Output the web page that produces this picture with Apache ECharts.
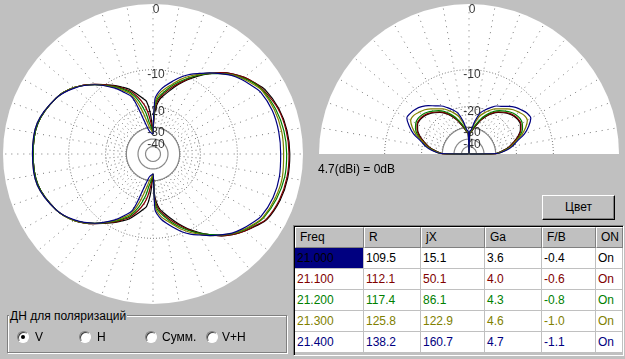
<!DOCTYPE html>
<html>
<head>
<meta charset="utf-8">
<script src="https://cdn.jsdelivr.net/npm/echarts@6.0.0/dist/echarts.min.js"></script>
<style>
html,body{margin:0;padding:0;background:#c0c0c0;overflow:hidden;}
#wrap{position:relative;width:625px;height:359px;background:#c0c0c0;font-family:"Liberation Sans",Arial,sans-serif;font-size:12px;color:#000;overflow:hidden;}
#chart{position:absolute;left:0;top:0;width:625px;height:359px;}
.abs{position:absolute;white-space:nowrap;box-sizing:border-box;overflow:hidden;}
</style>
</head>
<body>
<div id="wrap"><div id="chart"></div></div>
<script>
// ---------- data ----------
const FREQS = ['21.000', '21.100', '21.200', '21.300', '21.400'];
const R_VALUES = [109.5, 112.1, 117.4, 125.8, 138.2];
const JX_VALUES = [15.1, 50.1, 86.1, 122.9, 160.7];
const GA_VALUES = [3.6, 4.0, 4.3, 4.6, 4.7];
const FB_VALUES = [-0.4, -0.6, -0.8, -1.0, -1.1];
const ON_VALUES = ['On', 'On', 'On', 'On', 'On'];
const COLORS = ['#000000', '#800000', '#008000', '#808000', '#000080'];
const DB_TICKS = [0, -10, -20, -30, -40];
const DB_DOTTED = [-10, -20];
const DB_SOLID = [-30, -40, -52];
const POLARIZATIONS = ['V', 'H', 'Сумм.', 'V+H'];

// azimuth pattern (compass angle, clockwise from top), dB
const AZ_ANGLES = [0,2,4,7,10,15,20,25,30,35,40,45,50,55,60,70,80,90,100,110,120,125,130,135,140,145,150,155,160,165,170,173,176,178,180,182,184,187,190,195,200,205,210,220,230,240,255,270,285,300,310,320,330,335,340,345,350,353,356,358,360];
const AZ_21000 = [-35.0,-23.0,-19.8,-17.4,-16.2,-14.3,-12.3,-10.5,-8.9,-7.4,-6.0,-4.9,-4.0,-3.3,-2.6,-2.0,-1.7,-1.6,
  -1.6,-1.8,-2.3,-3.1,-3.9,-4.8,-5.9,-7.3,-8.8,-10.4,-12.2,-14.2,-16.1,-17.3,-19.7,-23.0,-35.0,
  -28.0,-22.1,-18.1,-17.1,-15.3,-13.5,-12.3,-11.1,-8.7,-6.5,-5.1,-4.0,-3.9,
  -4.0,-5.1,-6.5,-8.7,-11.1,-12.3,-13.5,-15.3,-17.1,-18.1,-22.1,-28.0,-35.0];
const AZ_21100 = [-35.0,-21.7,-18.7,-16.8,-15.6,-13.7,-12.0,-10.3,-8.7,-7.4,-6.0,-4.9,-4.0,-3.3,-2.8,-2.1,-1.8,-1.7,
  -1.7,-1.9,-2.4,-3.2,-3.9,-4.8,-5.9,-7.3,-8.6,-10.2,-11.9,-13.6,-15.5,-16.7,-18.6,-21.6,-35.0,
  -31.1,-26.8,-22.1,-19.1,-16.2,-14.0,-12.6,-11.2,-8.7,-6.5,-5.1,-4.0,-3.9,
  -4.0,-5.1,-6.5,-8.7,-11.2,-12.6,-14.0,-16.2,-19.1,-22.1,-26.8,-31.1,-35.0];
const AZ_21200 = [-35.0,-20.5,-17.7,-16.2,-15.1,-13.2,-11.6,-10.1,-8.7,-7.4,-6.2,-5.1,-4.2,-3.4,-2.9,-2.4,-2.1,-2.0,
  -2.0,-2.3,-2.8,-3.4,-4.1,-5.0,-6.1,-7.3,-8.6,-10.0,-11.5,-13.1,-15.0,-16.1,-17.6,-20.4,-35.0,
  -32.6,-29.8,-26.8,-22.1,-17.4,-14.5,-12.9,-11.4,-8.8,-6.5,-5.1,-4.0,-3.9,
  -4.0,-5.1,-6.5,-8.8,-11.4,-12.9,-14.5,-17.4,-22.1,-26.8,-29.8,-32.6,-35.0];
const AZ_21300 = [-35.0,-19.1,-16.8,-15.3,-14.3,-12.8,-11.1,-9.7,-8.5,-7.2,-6.2,-5.1,-4.3,-3.6,-3.0,-2.6,-2.4,-2.4,
  -2.3,-2.5,-2.9,-3.5,-4.2,-5.0,-6.1,-7.1,-8.4,-9.6,-11.0,-12.7,-14.2,-15.2,-16.7,-19.0,-35.0,
  -33.3,-31.8,-30.4,-26.8,-19.8,-15.1,-13.3,-11.6,-8.8,-6.5,-5.1,-3.9,-3.8,
  -3.9,-5.1,-6.5,-8.8,-11.6,-13.3,-15.1,-19.8,-26.8,-30.4,-31.8,-33.3,-35.0];
const AZ_21400 = [-35.0,-17.4,-15.9,-14.5,-13.5,-12.0,-10.5,-9.3,-8.3,-7.2,-6.2,-5.2,-4.5,-3.9,-3.3,-2.9,-2.8,-2.8,
  -2.7,-2.8,-3.2,-3.8,-4.4,-5.1,-6.1,-7.1,-8.2,-9.2,-10.4,-11.9,-13.4,-14.4,-15.8,-17.3,-35.0,
  -35.0,-34.2,-33.3,-31.8,-25.3,-15.9,-13.8,-11.8,-8.8,-6.6,-5.1,-3.9,-3.8,
  -3.9,-5.1,-6.6,-8.8,-11.8,-13.8,-15.9,-25.3,-31.8,-33.3,-34.2,-35.0,-35.0];

// elevation pattern (0 = right horizon, 90 = zenith), dB
const EL_ANGLES = [0,1,6,10,15,20,25,30,35,40,45,50,55,60,65,70,75,80,85,88,90,92,95,100,105,110,115,120,125,130,135,140,145,150,155,160,165,170,174,179,180];
const EL_21000 = [-99,-30.0,-25.5,-22.7,-20.4,-18.3,-16.9,-16.1,-16.0,-16.3,-16.9,-17.8,-18.8,-20.2,-22.1,-24.5,-27.6,-30.6,-33.5,-34.4,-99,-34.4,-33.5,-30.6,-27.6,-24.5,-22.1,-20.2,-18.8,-17.8,-16.9,-16.3,-16.0,-16.1,-16.9,-18.3,-20.4,-22.7,-25.5,-30.0,-99];
const EL_21100 = [-99,-29.8,-25.3,-22.5,-20.2,-18.1,-16.7,-15.9,-15.8,-16.1,-16.7,-17.6,-18.6,-20.0,-21.9,-24.3,-27.4,-30.4,-33.3,-34.2,-99,-34.2,-33.3,-30.4,-27.4,-24.3,-21.9,-20.0,-18.6,-17.6,-16.7,-16.1,-15.8,-15.9,-16.7,-18.1,-20.2,-22.5,-25.3,-29.8,-99];
const EL_21200 = [-99,-29.5,-24.8,-21.9,-19.6,-17.6,-16.2,-15.5,-15.3,-15.6,-16.2,-17.1,-18.1,-19.4,-21.3,-23.6,-26.6,-29.8,-33.0,-33.7,-99,-33.7,-33.0,-29.8,-26.6,-23.6,-21.3,-19.4,-18.1,-17.1,-16.2,-15.6,-15.3,-15.5,-16.2,-17.6,-19.6,-21.9,-24.8,-29.5,-99];
const EL_21300 = [-99,-29.5,-24.3,-21.9,-19.8,-17.1,-15.2,-13.9,-13.9,-14.5,-15.2,-16.2,-17.4,-18.4,-19.8,-21.5,-23.6,-27.7,-32.6,-33.3,-99,-33.3,-32.6,-27.7,-23.6,-21.5,-19.8,-18.4,-17.4,-16.2,-15.2,-14.5,-13.9,-13.9,-15.2,-17.1,-19.8,-21.9,-24.3,-29.5,-99];
const EL_21400 = [-99,-29.2,-23.8,-21.3,-19.1,-16.2,-14.3,-12.9,-13.0,-13.6,-14.3,-15.3,-16.5,-17.3,-18.7,-20.2,-22.1,-26.3,-31.8,-32.6,-99,-32.6,-31.8,-26.3,-22.1,-20.2,-18.7,-17.3,-16.3,-15.0,-14.0,-13.3,-12.9,-12.8,-14.3,-16.2,-19.1,-21.3,-23.8,-29.2,-99];

const AZ_SERIES = [AZ_21000, AZ_21100, AZ_21200, AZ_21300, AZ_21400];
const EL_SERIES = [EL_21000, EL_21100, EL_21200, EL_21300, EL_21400];

// ---------- scale: MMANA-style radial scale ----------
const toR = db => Math.pow(10, db / 40);

const AZ_C = [153, 154], EL_C = [469, 154], PR = 150;
const FONT = '"Liberation Sans", Arial, sans-serif';

function circlePts(db, a0, a1) {
  const pts = [];
  for (let a = a0; a <= a1; a += 2) pts.push([toR(db), a]);
  return pts;
}
function radialPts(a0, a1, step, dbIn, dbOut) {
  const pts = [];
  for (let a = a0; a <= a1; a += step) pts.push([toR(dbIn), a], [toR(dbOut), a], ['-', '-']);
  return pts;
}
function gridLine(pi, data, type, width, color) {
  return { type: 'line', coordinateSystem: 'polar', polarIndex: pi, data, symbol: 'none', silent: true,
    connectNulls: false, lineStyle: { color: color || '#777', width: width || 1, type: type }, z: 1, animation: false };
}
function gridFor(pi, a0, a1, r0, r1) {
  const s = [];
  DB_DOTTED.forEach(d => s.push(gridLine(pi, circlePts(d, a0, a1), [1, 2], 1)));
  DB_SOLID.forEach(d => s.push(gridLine(pi, circlePts(d, a0, a1), 'solid', 1.2, '#8a8a8a')));
  s.push(gridLine(pi, radialPts(r0, r1, 10, DB_TICKS[3], DB_TICKS[0]), [1, 5], 1));
  s.push(gridLine(pi, radialPts(r0 + 5, r1 - 5, 10, DB_TICKS[3], DB_TICKS[2]), [1, 3], 1));
  return s;
}
function labelSeries(pi, ang) {
  return { type: 'scatter', coordinateSystem: 'polar', polarIndex: pi, symbolSize: 1, silent: true,
    itemStyle: { color: 'rgba(0,0,0,0)' }, z: 2, animation: false,
    data: DB_TICKS.map(d => [toR(d), ang]),
    label: { show: true, position: 'bottom', distance: 0, offset: [3, -1], color: '#000', fontSize: 12, fontFamily: FONT,
      formatter: p => String(DB_TICKS[p.dataIndex]) } };
}
function patternSeries(pi, angles, arr, color) {
  return { type: 'line', coordinateSystem: 'polar', polarIndex: pi, symbol: 'none', silent: true, animation: false,
    smooth: 0.35,
    data: angles.map((a, i) => [toR(arr[i]), a]), lineStyle: { color, width: 1.2 }, z: 3 };
}

const series = [];
series.push(...gridFor(0, 0, 360, 0, 350));
series.push(...gridFor(1, 0, 180, 10, 170));
series.push(labelSeries(0, 0));
series.push(labelSeries(1, 90));
AZ_SERIES.forEach((arr, k) => series.push(patternSeries(0, AZ_ANGLES, arr, COLORS[k])));
EL_SERIES.forEach((arr, k) => series.push(patternSeries(1, EL_ANGLES, arr, COLORS[k])));

const chart = echarts.init(document.getElementById('chart'), null, { renderer: 'canvas' });
chart.setOption({
  animation: false,
  backgroundColor: '#c0c0c0',
  polar: [{ center: AZ_C, radius: PR }, { center: EL_C, radius: PR }],
  angleAxis: [
    { polarIndex: 0, type: 'value', min: 0, max: 360, startAngle: 90, clockwise: true, show: false },
    { polarIndex: 1, type: 'value', min: 0, max: 360, startAngle: 0, clockwise: false, show: false }
  ],
  radiusAxis: [
    { polarIndex: 0, type: 'value', min: 0, max: 1, show: false },
    { polarIndex: 1, type: 'value', min: 0, max: 1, show: false }
  ],
  graphic: [
    { type: 'circle', shape: { cx: AZ_C[0], cy: AZ_C[1], r: PR }, style: { fill: '#ffffff' }, z: 0, silent: true },
    { type: 'sector', shape: { cx: EL_C[0], cy: EL_C[1], r0: 0, r: PR, startAngle: Math.PI, endAngle: 2 * Math.PI }, style: { fill: '#ffffff' }, z: 0, silent: true }
  ],
  series
});

// ---------- UI parts (HTML) ----------
const wrap = document.getElementById('wrap');
function el(css, html) {
  const d = document.createElement('div');
  d.className = 'abs';
  d.style.cssText = css;
  if (html !== undefined) d.textContent = html;
  wrap.appendChild(d);
  return d;
}
// 0 dB reference text
el('left:318px;top:162px;line-height:14px;', Math.max(...GA_VALUES).toFixed(1) + '(dBi) = 0dB');
// button
el('left:542px;top:195px;width:73px;height:25px;background:#c0c0c0;border:1px solid;border-color:#fff #000 #000 #fff;box-shadow:inset -1px -1px 0 #808080;text-align:center;line-height:23px;', 'Цвет');
// table frame
el('left:293px;top:225px;width:331px;height:131px;border:1px solid;border-color:#808080 #fff #fff #808080;box-shadow:inset 1px 1px 0 #000;background:#c0c0c0;');
const COLS = [
  { name: 'Freq', x: 295, w: 69, vals: FREQS },
  { name: 'R', x: 364, w: 57, vals: R_VALUES.map(v => v.toFixed(1)) },
  { name: 'jX', x: 421, w: 64, vals: JX_VALUES.map(v => v.toFixed(1)) },
  { name: 'Ga', x: 485, w: 57, vals: GA_VALUES.map(v => v.toFixed(1)) },
  { name: 'F/B', x: 542, w: 54, vals: FB_VALUES.map(v => v.toFixed(1)) },
  { name: 'ON', x: 596, w: 27, vals: ON_VALUES }
];
COLS.forEach(c => {
  el(`left:${c.x}px;top:227px;width:${c.w}px;height:21px;background:#c0c0c0;border-style:solid;border-width:1px;border-color:#fff #808080 #808080 #fff;padding-left:4px;line-height:19px;`, c.name);
  c.vals.forEach((v, i) => {
    const sel = (c.name === 'Freq' && i === 0);
    el(`left:${c.x}px;top:${248 + i * 21}px;width:${c.w}px;height:21px;background:${sel ? '#000080' : '#fff'};border-right:1px solid #c0c0c0;border-bottom:1px solid #c0c0c0;padding-left:2px;line-height:20px;color:${sel ? '#000' : COLORS[i]};`, v);
  });
});
// polarization group box
el('left:7px;top:315px;width:280px;height:38px;border:1px solid #808080;box-shadow:1px 1px 0 #fff, inset 1px 1px 0 #fff;');
el('left:9px;top:309px;line-height:14px;padding:0 1px;background:#c0c0c0;', 'ДН для поляризаций');
const RADIO_X = [17, 79, 145, 206];
const LABEL_X = [35, 97, 162, 222];
POLARIZATIONS.forEach((p, i) => {
  const r = el(`left:${RADIO_X[i]}px;top:331px;width:12px;height:12px;border-radius:50%;background:#fff;border:1px solid;border-color:#808080 #fff #fff #808080;box-shadow:inset 1px 1px 0 #404040;`);
  if (i === 0) {
    const dot = document.createElement('div');
    dot.style.cssText = 'position:absolute;left:3px;top:3px;width:4px;height:4px;border-radius:50%;background:#000;';
    r.appendChild(dot);
  }
  el(`left:${LABEL_X[i]}px;top:330px;line-height:14px;`, p);
});
</script>
</body>
</html>
